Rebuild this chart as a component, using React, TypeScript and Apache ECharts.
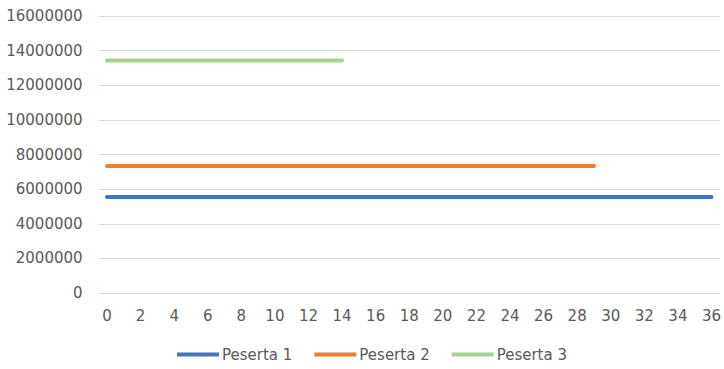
import React, { useEffect, useRef } from "react";
import * as echarts from "echarts";

const categories: string[] = [
  "0","1","2","3","4","5","6","7","8","9","10","11","12","13","14","15","16","17","18",
  "19","20","21","22","23","24","25","26","27","28","29","30","31","32","33","34","35","36",
];

const peserta1: number[] = [
  5540000,5540000,5540000,5540000,5540000,5540000,5540000,5540000,5540000,5540000,
  5540000,5540000,5540000,5540000,5540000,5540000,5540000,5540000,5540000,5540000,
  5540000,5540000,5540000,5540000,5540000,5540000,5540000,5540000,5540000,5540000,
  5540000,5540000,5540000,5540000,5540000,5540000,5540000,
];

const peserta2: number[] = [
  7340000,7340000,7340000,7340000,7340000,7340000,7340000,7340000,7340000,7340000,
  7340000,7340000,7340000,7340000,7340000,7340000,7340000,7340000,7340000,7340000,
  7340000,7340000,7340000,7340000,7340000,7340000,7340000,7340000,7340000,7340000,
];

const peserta3: number[] = [
  13430000,13430000,13430000,13430000,13430000,13430000,13430000,13430000,
  13430000,13430000,13430000,13430000,13430000,13430000,13430000,
];

const seriesNames = ["Peserta 1", "Peserta 2", "Peserta 3"];
const seriesColors = ["#4472C4", "#ED7D31", "#A9D18E"];

export default function App() {
  const ref = useRef<HTMLDivElement>(null);
  useEffect(() => {
    if (!ref.current) return;
    const chart = echarts.init(ref.current, undefined, { renderer: "svg" });
    const font = "'DejaVu Sans', sans-serif";
    const data = [peserta1, peserta2, peserta3];
    chart.setOption({
      animation: false,
      backgroundColor: "#ffffff",
      textStyle: { fontFamily: font },
      grid: { left: 98.6, right: 2.5, top: 16, bottom: 76, containLabel: false },
      legend: {
        bottom: 2,
        left: 172,
        itemWidth: 42,
        itemHeight: 4,
        itemGap: 22,
        icon: "rect",
        textStyle: { color: "#595959", fontSize: 15, fontFamily: font, padding: [0, 0, 0, -2] },
        data: seriesNames,
      },
      xAxis: {
        type: "category",
        data: categories,
        boundaryGap: true,
        axisLine: { show: false },
        axisTick: { show: false },
        axisLabel: { interval: 1, color: "#595959", fontSize: 15, margin: 15, fontFamily: font },
        splitLine: { show: false },
      },
      yAxis: {
        type: "value",
        min: 0,
        max: 16000000,
        interval: 2000000,
        axisLine: { show: false },
        axisTick: { show: false },
        axisLabel: {
          color: "#595959",
          fontSize: 15,
          margin: 16,
          fontFamily: font,
          formatter: (v: number) => String(v),
        },
        splitLine: { lineStyle: { color: "#D9D9D9", width: 1 } },
      },
      series: data.map((d, i) => ({
        name: seriesNames[i],
        type: "line",
        data: d,
        showSymbol: false,
        symbol: "none",
        color: seriesColors[i],
        lineStyle: { width: 4, color: seriesColors[i], cap: "round" },
      })),
    });
    return () => chart.dispose();
  }, []);
  return (
    <div
      ref={ref}
      style={{ position: "fixed", left: 0, top: 0, width: 724, height: 369, background: "#fff" }}
    />
  );
}
